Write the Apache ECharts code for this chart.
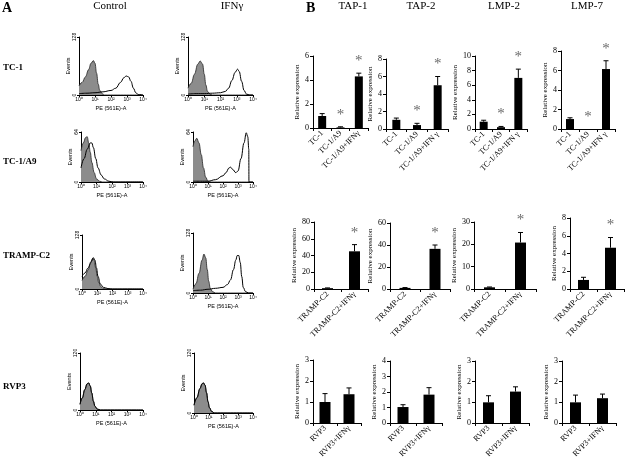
<!DOCTYPE html>
<html><head><meta charset="utf-8">
<script src="https://cdn.jsdelivr.net/npm/echarts@6/dist/echarts.min.js"></script>
<style>html,body{margin:0;padding:0;background:#fff}#c{width:625px;height:465px}</style>
</head><body><div id="c"></div>
<script>
// ---------- Panel A: flow histograms (x = log10 decade, y = events) ----------
const histTickLabels = ['10⁰','10¹','10²','10³','10⁴'];
// TC-1
const tc1CtrlIso = [[0,20],[0.2,28],[0.4,40],[0.6,56],[0.75,70],[0.9,76],[1.0,70],[1.1,48],[1.2,24],[1.3,10],[1.45,3],[1.6,0],[4,0]];
const tc1CtrlStain = [[0,3],[0.5,4],[1,5],[1.5,7],[2,10],[2.3,15],[2.6,28],[2.8,38],[2.95,42],[3.1,40],[3.25,30],[3.4,15],[3.55,5],[3.7,1],[4,0]];
const tc1IfnIso = [[0,15],[0.2,26],[0.4,46],[0.6,68],[0.75,75],[0.9,68],[1.0,46],[1.1,22],[1.2,8],[1.35,2],[1.5,0],[4,0]];
const tc1IfnStain = [[0,2],[0.5,3],[1,3],[1.5,4],[2,5],[2.3,8],[2.5,15],[2.7,32],[2.9,50],[3.05,57],[3.15,52],[3.3,30],[3.45,10],[3.6,2],[3.8,0],[4,0]];
// TC-1/A9
const a9CtrlIso = [[0,40],[0.15,50],[0.3,57],[0.4,58],[0.5,50],[0.6,38],[0.7,25],[0.85,12],[1.0,4],[1.2,1],[1.4,0],[4,0]];
const a9CtrlStain = [[0,18],[0.2,30],[0.4,42],[0.6,50],[0.7,50],[0.8,44],[0.95,30],[1.1,18],[1.3,9],[1.5,4],[1.8,1],[2.1,0],[4,0]];
const a9IfnIso = [[0,45],[0.1,52],[0.25,56],[0.4,50],[0.55,35],[0.7,18],[0.85,6],[1.0,1],[1.2,0],[4,0]];
const a9IfnStain = [[0,1],[0.5,1],[1,1],[1.5,3],[2,8],[2.2,12],[2.4,18],[2.5,19],[2.65,16],[2.85,12],[3.0,14],[3.2,30],[3.4,50],[3.55,63],[3.65,58],[3.72,42],[3.73,0],[4,0]];
// TRAMP-C2
const trCtrlIso = [[0,20],[0.2,30],[0.4,45],[0.55,60],[0.7,73],[0.8,68],[0.9,50],[1.0,30],[1.1,15],[1.25,5],[1.4,1],[1.6,0],[4,0]];
const trCtrlStain = [[0,30],[0.2,38],[0.4,50],[0.6,65],[0.75,74],[0.85,68],[0.95,50],[1.05,30],[1.2,12],[1.4,4],[1.7,1],[2,0],[4,0]];
const trIfnIso = [[0,8],[0.2,20],[0.4,42],[0.6,70],[0.73,83],[0.85,75],[0.95,50],[1.05,25],[1.15,10],[1.3,3],[1.5,0],[4,0]];
const trIfnStain = [[0,5],[0.5,6],[1,8],[1.5,10],[2,12],[2.3,18],[2.5,28],[2.7,50],[2.85,70],[2.95,80],[3.05,80],[3.15,65],[3.25,35],[3.35,12],[3.5,3],[3.7,0],[4,0]];
// RVP3
const rvCtrlIso = [[0,12],[0.15,25],[0.3,42],[0.45,55],[0.55,57],[0.65,50],[0.75,35],[0.85,18],[0.95,7],[1.1,2],[1.3,0],[4,0]];
const rvCtrlStain = [[0,12],[0.15,26],[0.3,43],[0.45,55],[0.55,57],[0.65,51],[0.75,36],[0.85,19],[0.95,8],[1.1,2],[1.3,0],[4,0]];
const rvIfnIso = [[0,15],[0.2,30],[0.4,48],[0.55,58],[0.65,60],[0.75,55],[0.85,40],[0.95,22],[1.05,10],[1.2,3],[1.4,0],[4,0]];
const rvIfnStain = [[0,16],[0.2,31],[0.4,49],[0.55,59],[0.65,60],[0.75,56],[0.85,41],[0.95,23],[1.05,11],[1.2,3],[1.4,0],[4,0]];

// ---------- Panel B: relative expression bars ----------
const catsTC1a = ['TC-1','TC-1/A9','TC-1/A9+IFNγ'];
const catsTC1 = ['TC-1','TC-1/A9','TC-1/A9+IFN γ'];
const catsTRAMP = ['TRAMP-C2','TRAMP-C2+IFNγ'];
const catsRVP3 = ['RVP3','RVP3+IFNγ'];

const tc1TAP1 = [1.0, 0.05, 4.3], tc1TAP1Err = [0.2, 0.05, 0.27], tc1TAP1Sig = [0,1,1];
const tc1TAP2 = [1.05, 0.45, 5.0], tc1TAP2Err = [0.2, 0.2, 1.0], tc1TAP2Sig = [0,1,1];
const tc1LMP2 = [1.0, 0.25, 7.0], tc1LMP2Err = [0.2, 0.1, 1.2], tc1LMP2Sig = [0,1,1];
const tc1LMP7 = [1.02, 0.0, 6.15], tc1LMP7Err = [0.13, 0, 0.85], tc1LMP7Sig = [0,1,1];

const trTAP1 = [1.0, 45], trTAP1Err = [0.3, 8], trTAP1Sig = [0,1];
const trTAP2 = [1.0, 36.5], trTAP2Err = [0.3, 3.5], trTAP2Sig = [0,1];
const trLMP2 = [0.75, 20.8], trLMP2Err = [0.15, 4.5], trLMP2Sig = [0,1];
const trLMP7 = [1.02, 4.65], trLMP7Err = [0.3, 1.15], trLMP7Sig = [0,1];

const rvTAP1 = [1.0, 1.37], rvTAP1Err = [0.4, 0.3], rvTAP1Sig = [0,0];
const rvTAP2 = [1.03, 1.83], rvTAP2Err = [0.15, 0.45], rvTAP2Sig = [0,0];
const rvLMP2 = [1.0, 1.52], rvLMP2Err = [0.32, 0.23], rvLMP2Sig = [0,0];
const rvLMP7 = [1.0, 1.2], rvLMP7Err = [0.35, 0.2], rvLMP7Sig = [0,0];

// ---------- build ----------
const grids = [], xAxes = [], yAxes = [], series = [];
const SERIF = 'Liberation Serif', SANS = 'Liberation Sans';

function addHist(rect, yMax, iso, stain) {
  const gi = grids.length;
  grids.push({left: rect[0], top: rect[1], width: rect[2], height: rect[3], containLabel: false});
  xAxes.push({gridIndex: gi, type: 'value', min: 0, max: 4, interval: 1,
    axisLine: {show: true, lineStyle: {color: '#000', width: 1}},
    axisTick: {show: true, length: 2, lineStyle: {color: '#000'}},
    splitLine: {show: false},
    axisLabel: {fontSize: 5, fontFamily: SANS, color: '#000', margin: 2, formatter: v => histTickLabels[v]},
    name: 'PE (561E)-A', nameLocation: 'middle', nameGap: 10,
    nameTextStyle: {fontSize: 5.5, fontFamily: SANS, color: '#000'}});
  yAxes.push({gridIndex: gi, type: 'value', min: 0, max: yMax, interval: yMax,
    axisLine: {show: true, lineStyle: {color: '#000', width: 1}},
    axisTick: {show: true, length: 2, lineStyle: {color: '#000'}},
    splitLine: {show: false},
    axisLabel: {fontSize: 5, fontFamily: SANS, color: '#000', margin: 2, rotate: 90},
    name: 'Events', nameLocation: 'middle', nameRotate: 90, nameGap: 6,
    nameTextStyle: {fontSize: 5.5, fontFamily: SANS, color: '#000'}});
  series.push({type: 'line', xAxisIndex: gi, yAxisIndex: gi, data: iso, smooth: 0.4, smoothMonotone: 'x',
    symbol: 'none', lineStyle: {color: '#222', width: 0.8}, areaStyle: {color: '#8c8c8c', opacity: 1}, silent: true});
  series.push({type: 'line', xAxisIndex: gi, yAxisIndex: gi, data: stain, smooth: 0.4, smoothMonotone: 'x',
    symbol: 'none', lineStyle: {color: '#000', width: 1}, silent: true});
}

function addBars(rect, cats, vals, errs, sig, yMax, yInt, barW) {
  const gi = grids.length;
  grids.push({left: rect[0], top: rect[1], width: rect[2], height: rect[3], containLabel: false});
  xAxes.push({gridIndex: gi, type: 'category', data: cats,
    axisLine: {show: true, lineStyle: {color: '#000', width: 1}},
    axisTick: {show: true, length: 3, lineStyle: {color: '#000'}},
    axisLabel: {fontSize: 8, fontFamily: SERIF, color: '#000', rotate: 45, margin: 4, interval: 0}});
  yAxes.push({gridIndex: gi, type: 'value', min: 0, max: yMax, interval: yInt,
    axisLine: {show: true, lineStyle: {color: '#000', width: 1}},
    axisTick: {show: true, length: 3, lineStyle: {color: '#000'}},
    splitLine: {show: false},
    axisLabel: {fontSize: 8, fontFamily: SERIF, color: '#000', margin: 4},
    name: 'Relative expression', nameLocation: 'middle', nameRotate: 90, nameGap: 12,
    nameTextStyle: {fontSize: 7, fontFamily: SERIF, color: '#000'}});
  series.push({type: 'bar', xAxisIndex: gi, yAxisIndex: gi, data: vals, barWidth: barW,
    itemStyle: {color: '#000'}, silent: true});
  series.push({type: 'custom', xAxisIndex: gi, yAxisIndex: gi, silent: true,
    data: vals.map((v, i) => [i, v, errs[i]]),
    renderItem: (params, api) => {
      const x = api.value(0), v = api.value(1), e = api.value(2);
      if (!e) return null;
      const p0 = api.coord([x, v]), p1 = api.coord([x, v + e]);
      const hw = 2.5;
      return {type: 'group', children: [
        {type: 'line', shape: {x1: p0[0], y1: p0[1], x2: p1[0], y2: p1[1]}, style: {stroke: '#000', lineWidth: 1}},
        {type: 'line', shape: {x1: p1[0] - hw, y1: p1[1], x2: p1[0] + hw, y2: p1[1]}, style: {stroke: '#000', lineWidth: 1}}
      ]};
    }});
  const sigData = vals.map((v, i) => [i, v + errs[i]]).filter((d, i) => sig[i]);
  if (sigData.length) series.push({type: 'scatter', xAxisIndex: gi, yAxisIndex: gi, data: sigData, clip: false,
    symbolSize: 1, itemStyle: {color: 'rgba(0,0,0,0)'}, silent: true,
    label: {show: true, formatter: '*', position: 'inside', offset: [0, -12],
      fontSize: 15, fontFamily: SERIF, color: '#444'}});
}

// Panel A
addHist([79, 37, 64, 58], 128, tc1CtrlIso, tc1CtrlStain);
addHist([188, 37, 65, 58], 128, tc1IfnIso, tc1IfnStain);
addHist([81, 132, 62, 50], 64, a9CtrlIso, a9CtrlStain);
addHist([193, 132, 60, 50], 64, a9IfnIso, a9IfnStain);
addHist([82, 235, 61, 54], 128, trCtrlIso, trCtrlStain);
addHist([193, 233, 60, 60], 128, trIfnIso, trIfnStain);
addHist([80, 353, 63, 57], 120, rvCtrlIso, rvCtrlStain);
addHist([194, 353, 59, 60], 120, rvIfnIso, rvIfnStain);

// Panel B row 1
addBars([313, 56, 55, 72], catsTC1a, tc1TAP1, tc1TAP1Err, tc1TAP1Sig, 6, 2, 8);
addBars([386, 59, 62, 70], catsTC1, tc1TAP2, tc1TAP2Err, tc1TAP2Sig, 8, 2, 8);
addBars([475, 56, 52, 73], catsTC1, tc1LMP2, tc1LMP2Err, tc1LMP2Sig, 10, 2, 8);
addBars([561, 51, 54, 78], catsTC1, tc1LMP7, tc1LMP7Err, tc1LMP7Sig, 8, 2, 8);
// row 2
addBars([314, 222, 54, 67], catsTRAMP, trTAP1, trTAP1Err, trTAP1Sig, 80, 20, 11);
addBars([390, 223, 60, 66], catsTRAMP, trTAP2, trTAP2Err, trTAP2Sig, 60, 20, 11);
addBars([474, 222, 62, 67], catsTRAMP, trLMP2, trLMP2Err, trLMP2Sig, 30, 10, 11);
addBars([570, 218, 54, 71], catsTRAMP, trLMP7, trLMP7Err, trLMP7Sig, 8, 2, 11);
// row 3
addBars([313, 360, 48, 63], catsRVP3, rvTAP1, rvTAP1Err, rvTAP1Sig, 3, 1, 11);
addBars([390, 361, 52, 62], catsRVP3, rvTAP2, rvTAP2Err, rvTAP2Sig, 4, 1, 11);
addBars([475, 361, 54, 62], catsRVP3, rvLMP2, rvLMP2Err, rvLMP2Sig, 3, 1, 11);
addBars([562, 361, 54, 62], catsRVP3, rvLMP7, rvLMP7Err, rvLMP7Sig, 3, 1, 11);

function txt(x, y, s, font, align) {
  return {type: 'text', x: x, y: y, silent: true,
    style: {text: s, font: font, fill: '#000', textAlign: align || 'left', textVerticalAlign: 'middle'}};
}
const graphic = [
  txt(2, 8, 'A', 'bold 14px "Liberation Serif"'),
  txt(110, 6, 'Control', '11px "Liberation Serif"', 'center'),
  txt(232, 6, 'IFNγ', '11px "Liberation Serif"', 'center'),
  txt(306, 8, 'B', 'bold 14px "Liberation Serif"'),
  txt(353, 6, 'TAP-1', '11px "Liberation Serif"', 'center'),
  txt(421, 6, 'TAP-2', '11px "Liberation Serif"', 'center'),
  txt(504, 6, 'LMP-2', '11px "Liberation Serif"', 'center'),
  txt(587, 6, 'LMP-7', '11px "Liberation Serif"', 'center'),
  txt(3, 68, 'TC-1', 'bold 9px "Liberation Serif"'),
  txt(3, 162, 'TC-1/A9', 'bold 9px "Liberation Serif"'),
  txt(3, 256, 'TRAMP-C2', 'bold 9px "Liberation Serif"'),
  txt(3, 387, 'RVP3', 'bold 9px "Liberation Serif"')
];

const chart = echarts.init(document.getElementById('c'), null, {renderer: 'canvas'});
chart.setOption({
  backgroundColor: '#fff', animation: false,
  grid: grids, xAxis: xAxes, yAxis: yAxes, series: series, graphic: graphic
});
</script></body></html>
